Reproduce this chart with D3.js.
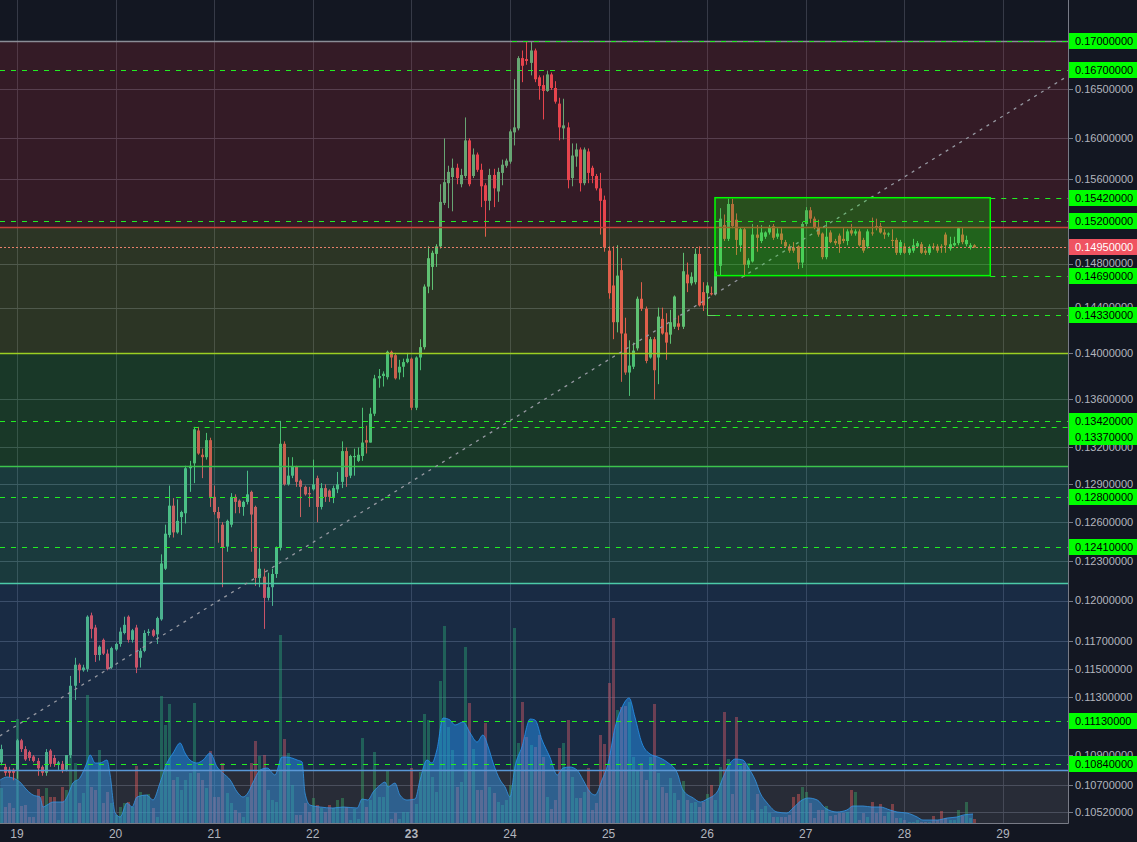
<!DOCTYPE html>
<html>
<head>
<meta charset="utf-8">
<title>Candles</title>
<script src="https://cdn.jsdelivr.net/npm/d3@7"></script>
<style>
  html, body { margin: 0; padding: 0; background: #131722; }
  svg { display: block; }
</style>
</head>
<body>
<div id="chart"></div>
<script>
// hourly candles, first candle is 4 hours before day 19
var firstCandleHour = -4;
var opens = [
  .1085,.1082,.1080,.1080,.1080,.1100,.1094,.1092,.1089,.1086,
  .1082,.1078,.1093,.1088,.1084,.1084,.1080,.1090,.1138,.1153,
  .1149,.1150,.1189,.1180,.1160,.1171,.1161,.1151,.1164,.1168,
  .1176,.1188,.1171,.1180,.1158,.1163,.1176,.1178,.1175,.1186,
  .1224,.1250,.1273,.1252,.1264,.1267,.1303,.1307,.1334,.1314,
  .1312,.1326,.1280,.1268,.1258,.1241,.1258,.1280,.1277,.1272,
  .1276,.1284,.1272,.1217,.1218,.1202,.1210,.1220,.1240,.1323,
  .1290,.1297,.1304,.1293,.1288,.1283,.1286,.1295,.1272,.1287,
  .1285,.1280,.1286,.1292,.1317,.1297,.1312,.1309,.1313,.1326,
  .1324,.1348,.1378,.1380,.1379,.1401,.1398,.1383,.1388,.1392,
  .1395,.1353,.1396,.1405,.1459,.1477,.1489,.1496,.1537,.1556,
  .1562,.1571,.1555,.1563,.1598,.1563,.1584,.1569,.1554,.1539,
  .1564,.1548,.1566,.1573,.1577,.1606,.1610,.1682,.1681,.1677,
  .1690,.1662,.1654,.1648,.1665,.1651,.1635,.1610,.1611,.1561,
  .1582,.1589,.1556,.1587,.1571,.1563,.1551,.1540,.1492,.1460,
  .1427,.1474,.1417,.1383,.1388,.1404,.1448,.1439,.1396,.1412,
  .1396,.1430,.1418,.1416,.1423,.1426,.1423,.1470,.1462,.1463,
  .1489,.1454,.1453,.1453,.1452,.1478,.1516,.1503,.1536,.1521,
  .1497,.1512,.1479,.1482,.1507,.1501,.1505,.1509,.1515,.1505,
  .1508,.1500,.1496,.1495,.1496,.1481,.1517,.1530,.1522,.1514,
  .1508,.1486,.1509,.1501,.1506,.1503,.1501,.1511,.1508,.1510,
  .1502,.1496,.1509,.1515,.1515,.1509,.1507,.1502,.1502,.1490,
  .1496,.1490,.1492,.1496,.1498,.1492,.1490,.1496,.1496,.1496,
  .1507,.1494,.1497,.1499,.1507,.1498,.1495,.1497
];
var highs = [
  .1097,.1084,.1082,.1081,.1101,.1101,.1096,.1093,.1090,.1088,
  .1083,.1094,.1094,.1090,.1086,.1086,.1090,.1145,.1158,.1154,
  .1153,.1189,.1191,.1182,.1167,.1172,.1164,.1166,.1169,.1180,
  .1188,.1189,.1179,.1182,.1165,.1178,.1179,.1179,.1188,.1235,
  .1258,.1289,.1279,.1278,.1269,.1305,.1309,.1337,.1337,.1319,
  .1332,.1328,.1289,.1272,.1260,.1262,.1283,.1282,.1278,.1277,
  .1301,.1285,.1273,.1240,.1224,.1221,.1224,.1241,.1342,.1325,
  .1312,.1312,.1305,.1294,.1289,.1288,.1310,.1297,.1291,.1290,
  .1286,.1289,.1300,.1325,.1320,.1314,.1319,.1320,.1353,.1338,
  .1353,.1381,.1386,.1384,.1402,.1402,.1400,.1394,.1395,.1400,
  .1396,.1397,.1412,.1461,.1496,.1492,.1498,.1555,.1600,.1573,
  .1580,.1575,.1570,.1621,.1600,.1590,.1586,.1575,.1556,.1570,
  .1570,.1571,.1579,.1580,.1609,.1660,.1684,.1690,.1699,.1699,
  .1692,.1664,.1664,.1669,.1667,.1658,.1641,.1640,.1616,.1595,
  .1595,.1591,.1591,.1590,.1573,.1565,.1566,.1544,.1496,.1496,
  .1497,.1485,.1431,.1411,.1409,.1450,.1463,.1441,.1414,.1414,
  .1440,.1440,.1435,.1438,.1451,.1433,.1490,.1481,.1472,.1494,
  .1496,.1463,.1463,.1459,.1495,.1532,.1526,.1541,.1541,.1527,
  .1514,.1514,.1485,.1517,.1516,.1516,.1510,.1516,.1517,.1513,
  .1513,.1502,.1498,.1500,.1497,.1519,.1533,.1533,.1524,.1521,
  .1509,.1519,.1511,.1503,.1508,.1513,.1512,.1517,.1512,.1512,
  .1504,.1512,.1523,.1522,.1518,.1512,.1509,.1512,.1504,.1502,
  .1499,.1496,.1503,.1501,.1500,.1494,.1498,.1499,.1498,.1498,
  .1509,.1505,.1505,.1514,.1513,.1506,.1499,.1498
];
var lows = [
  .1083,.1076,.1075,.1073,.1074,.1092,.1086,.1086,.1085,.1076,
  .1076,.1076,.1082,.1082,.1080,.1078,.1079,.1088,.1128,.1140,
  .1148,.1148,.1172,.1155,.1156,.1160,.1149,.1150,.1163,.1166,
  .1175,.1169,.1169,.1147,.1151,.1162,.1174,.1173,.1168,.1185,
  .1223,.1248,.1248,.1251,.1250,.1259,.1284,.1291,.1314,.1295,
  .1310,.1272,.1266,.1244,.1210,.1237,.1256,.1267,.1267,.1265,
  .1274,.1237,.1211,.1210,.1179,.1200,.1196,.1217,.1238,.1289,
  .1289,.1295,.1288,.1264,.1281,.1272,.1285,.1260,.1270,.1276,
  .1276,.1275,.1283,.1287,.1288,.1295,.1297,.1308,.1309,.1315,
  .1324,.1346,.1370,.1371,.1377,.1387,.1377,.1377,.1379,.1391,
  .1351,.1351,.1385,.1403,.1453,.1456,.1477,.1494,.1535,.1532,
  .1529,.1555,.1552,.1561,.1553,.1561,.1567,.1533,.1505,.1530,
  .1533,.1538,.1554,.1571,.1575,.1593,.1608,.1657,.1675,.1664,
  .1657,.1639,.1619,.1647,.1649,.1635,.1598,.1599,.1551,.1553,
  .1572,.1548,.1554,.1556,.1556,.1549,.1507,.1491,.1448,.1412,
  .1418,.1375,.1381,.1363,.1386,.1402,.1437,.1391,.1395,.1360,
  .1373,.1416,.1394,.1408,.1421,.1420,.1421,.1454,.1460,.1461,
  .1441,.1437,.1451,.1451,.1451,.1469,.1501,.1501,.1513,.1488,
  .1491,.1468,.1476,.1481,.1491,.1499,.1503,.1507,.1502,.1503,
  .1498,.1495,.1490,.1490,.1475,.1476,.1515,.1518,.1512,.1505,
  .1484,.1484,.1499,.1497,.1490,.1499,.1497,.1506,.1506,.1496,
  .1490,.1494,.1506,.1511,.1508,.1503,.1505,.1496,.1488,.1488,
  .1489,.1488,.1490,.1495,.1489,.1488,.1488,.1493,.1490,.1490,
  .1490,.1492,.1496,.1497,.1498,.1496,.1493,.1495
];
var closes = [
  .1094,.1078,.1078,.1078,.1100,.1094,.1087,.1088,.1086,.1081,
  .1078,.1092,.1084,.1084,.1085,.1080,.1090,.1138,.1153,.1149,
  .1151,.1188,.1179,.1160,.1166,.1161,.1150,.1165,.1168,.1177,
  .1182,.1171,.1178,.1151,.1163,.1176,.1177,.1174,.1187,.1228,
  .1251,.1273,.1252,.1261,.1268,.1303,.1305,.1335,.1315,.1312,
  .1326,.1280,.1268,.1263,.1240,.1261,.1280,.1276,.1272,.1276,
  .1282,.1266,.1217,.1224,.1202,.1210,.1220,.1240,.1323,.1290,
  .1297,.1304,.1292,.1288,.1282,.1282,.1290,.1272,.1287,.1280,
  .1280,.1287,.1290,.1317,.1296,.1313,.1313,.1314,.1324,.1324,
  .1348,.1378,.1380,.1382,.1401,.1396,.1378,.1388,.1392,.1395,
  .1353,.1396,.1405,.1459,.1485,.1490,.1496,.1538,.1557,.1567,
  .1571,.1561,.1564,.1598,.1555,.1584,.1569,.1553,.1539,.1564,
  .1551,.1567,.1574,.1578,.1607,.1611,.1682,.1674,.1679,.1690,
  .1660,.1653,.1648,.1665,.1651,.1637,.1611,.1613,.1559,.1583,
  .1589,.1556,.1589,.1566,.1563,.1551,.1539,.1495,.1453,.1427,
  .1469,.1417,.1383,.1389,.1402,.1448,.1439,.1393,.1412,.1385,
  .1432,.1417,.1409,.1427,.1450,.1423,.1473,.1462,.1468,.1489,
  .1442,.1442,.1460,.1452,.1473,.1522,.1503,.1536,.1515,.1502,
  .1512,.1479,.1483,.1507,.1504,.1509,.1509,.1514,.1504,.1508,
  .1502,.1496,.1492,.1492,.1481,.1517,.1530,.1522,.1514,.1507,
  .1486,.1505,.1500,.1499,.1498,.1501,.1510,.1508,.1510,.1497,
  .1492,.1510,.1508,.1514,.1509,.1507,.1508,.1501,.1490,.1500,
  .1490,.1494,.1497,.1499,.1490,.1490,.1496,.1495,.1492,.1495,
  .1497,.1498,.1499,.1513,.1500,.1502,.1497,.1495
];
var volumes = [
  35,16,20,15,104,17,18,6,6,34,
  27,35,26,26,3,36,33,83,60,20,
  30,128,36,33,73,20,31,20,8,16,
  20,21,16,57,31,28,29,15,6,127,
  98,119,43,46,33,43,50,120,50,43,
  35,72,26,26,60,30,20,13,10,6,
  26,60,82,67,68,33,23,21,188,84,
  70,38,8,8,20,11,25,18,15,11,
  18,15,23,25,16,3,14,4,85,16,
  23,71,26,26,53,4,10,4,11,11,
  55,19,51,109,103,46,31,142,197,96,
  73,36,41,176,120,74,33,33,100,36,
  30,21,18,23,38,195,80,121,86,78,
  76,88,66,26,14,23,75,80,103,46,
  25,25,31,55,13,20,88,79,140,205,
  113,116,117,121,66,53,60,43,66,119,
  50,36,30,45,30,23,42,23,20,21,
  16,21,29,38,23,56,111,64,29,106,
  57,60,60,13,29,14,17,10,6,6,
  6,6,8,26,29,36,31,20,5,13,
  13,17,7,8,10,10,11,33,31,3,
  10,6,21,10,19,7,11,19,5,5,
  3,1,1,3,1,1,1,7,3,12,
  5,3,3,13,7,21,5,4
];

// volume moving average (blue area), hours after day 19 00:00
var volMaHours = [
  -4.1,-2.4,-1.0,0.7,2.4,3.9,5.6,6.3,7.3,8.8,11.2,12.2,13.6,15.3,17.0,17.8,19.0,20.2,21.9,22.6,
  23.9,25.1,26.8,28.0,29.2,31.6,33.1,34.8,36.5,38.0,39.7,40.9,42.1,43.8,45.3,47.0,48.7,50.1,51.9,53.6,
  55.0,56.2,57.4,59.2,60.9,62.8,64.5,65.7,66.9,68.2,69.4,70.1,71.3,73.8,76.9,79.4,82.8,84.0,85.4,86.7,
  88.4,89.6,90.3,92.0,93.2,94.9,96.9,98.1,99.8,101.0,102.2,103.7,105.4,106.6,108.6,110.3,112.0,113.4,114.7,115.9,
  117.6,118.8,120.0,121.2,122.9,124.9,126.1,127.8,129.7,131.5,132.9,134.6,136.3,137.8,139.5,140.7,142.4,143.9,145.6,147.3,
  149.0,150.4,152.1,154.1,156.0,158.2,160.7,162.1,164.6,166.3,168.0,170.4,171.9,173.6,174.8,176.7,177.9,179.7,180.9,182.6,
  185.0,187.4,188.9,191.1,192.6,194.8,196.7,199.6,202.0,203.5,205.9,208.1,210.1,212.5,214.2,216.6,219.1,220.5,224.0,226.4,
  228.8,230.3,232.7
];
var volMaValues = [
  43,46,45,41,33,28,26,16,18,21,21,26,40,45,60,68,60,60,63,50,
  10,6,20,16,26,28,23,40,60,70,80,70,63,60,63,70,56,50,43,31,
  26,30,40,53,55,48,66,66,65,63,61,30,18,16,15,16,15,24,23,31,
  38,41,36,40,28,23,24,43,63,60,73,105,103,98,101,90,81,88,76,60,
  43,36,26,56,76,104,103,83,66,48,55,56,53,43,31,28,43,60,96,116,
  125,106,80,69,66,61,50,33,25,21,24,31,46,60,64,63,56,43,30,20,
  11,10,15,23,25,23,15,11,13,17,17,16,16,13,11,10,6,3,3,5,
  6,8,9
];

var dayTicks = [19, 20, 21, 22, 23, 24, 25, 26, 27, 28, 29];
var boldDay = 23;
var priceTicks = [0.165, 0.16, 0.156, 0.148, 0.144, 0.14, 0.136, 0.132, 0.129, 0.126,
                  0.123, 0.12, 0.117, 0.115, 0.113, 0.109, 0.107, 0.1052];

// retracement zones, top to bottom
var bandLevels = [0.17, 0.1514, 0.14, 0.1305, 0.1213, 0.108, 0.104];

// horizontal levels (green dashed) and the hour where each starts (null = left edge)
var levelPrices = [0.17, 0.167, 0.1542, 0.152, 0.1469, 0.1433, 0.1342, 0.1337, 0.128, 0.1241, 0.1113, 0.1084];
var levelStartHours = [120.5, null, 236.9, null, 236.9, 169.9, null, 43, null, null, null, null];

var lastPrice = 0.1495;

// drawings
var trendHours = [-4.2, 256];
var trendPrices = [0.1103, 0.1664];
var boxHours = [169.9, 236.9];
var boxPrices = [0.1542, 0.1469];
var bracketHours = [168, 168, 169.9];
var bracketPrices = [0.1461, 0.1433, 0.1433];

document.addEventListener("DOMContentLoaded", function () {
    var W = 1137, H = 842;
    var plotRight = 1068, plotBottom = 823;
    var font = "'Liberation Sans', Arial, sans-serif";

    var svg = d3.select("#chart").append("svg")
        .attr("width", W)
        .attr("height", H);

    var day19 = new Date(Date.UTC(2018, 9, 19));
    var day29 = new Date(Date.UTC(2018, 9, 29));
    function hourDate(h) { return new Date(day19.getTime() + h * 3600000); }

    // time scale, day 19 at x=17, day 29 at x=1003
    var x = d3.scaleUtc().domain([day19, day29]).range([17, 1003]);
    // log price scale
    var y = d3.scaleLog().domain([0.17, 0.1052]).range([41, 812]);
    // volume scale for the bottom of the pane
    var vy = d3.scaleLinear().domain([0, d3.max(volumes)]).range([plotBottom, 618]);

    var candles = closes.map(function (c, i) {
        return { t: hourDate(firstCandleHour + i), o: opens[i], h: highs[i], l: lows[i], c: c, v: volumes[i] };
    });
    var step = x(hourDate(1)) - x(hourDate(0));
    var bodyW = Math.max(1, Math.round(step * 0.72));

    svg.append("rect").attr("width", W).attr("height", H).attr("fill", "#131722");

    svg.append("defs").append("clipPath").attr("id", "plot")
        .append("rect").attr("width", plotRight).attr("height", plotBottom);

    var plot = svg.append("g").attr("clip-path", "url(#plot)");

    // grid
    var days = dayTicks.map(function (d) { return new Date(Date.UTC(2018, 9, d)); });
    plot.selectAll(".vgrid").data(days).enter().append("line")
        .attr("x1", function (d) { return Math.round(x(d)) + 0.5; })
        .attr("x2", function (d) { return Math.round(x(d)) + 0.5; })
        .attr("y1", 0).attr("y2", plotBottom)
        .attr("stroke", "#363a47").attr("stroke-width", 1);
    plot.selectAll(".hgrid").data(priceTicks).enter().append("line")
        .attr("x1", 0).attr("x2", plotRight)
        .attr("y1", function (d) { return Math.round(y(d)) + 0.5; })
        .attr("y2", function (d) { return Math.round(y(d)) + 0.5; })
        .attr("stroke", "#3c4150").attr("stroke-width", 1);

    // volume bars
    plot.selectAll(".vol").data(candles).enter().append("rect")
        .attr("x", function (d) { return Math.round(x(d.t)) - Math.floor(bodyW / 2); })
        .attr("y", function (d) { return vy(d.v); })
        .attr("width", bodyW)
        .attr("height", function (d) { return plotBottom - vy(d.v); })
        .attr("fill", function (d) { return d.c >= d.o ? "#26a65b" : "#ef5350"; })
        .attr("opacity", 0.45);

    // volume average area
    var ma = volMaHours.map(function (h, i) { return { t: hourDate(h), v: volMaValues[i] }; });
    plot.append("path").datum(ma)
        .attr("d", d3.area().curve(d3.curveMonotoneX)
            .x(function (d) { return x(d.t); })
            .y0(plotBottom)
            .y1(function (d) { return vy(d.v); }))
        .attr("fill", "#2196f3").attr("opacity", 0.5);
    plot.append("path").datum(ma)
        .attr("d", d3.line().curve(d3.curveMonotoneX)
            .x(function (d) { return x(d.t); })
            .y(function (d) { return vy(d.v); }))
        .attr("fill", "none").attr("stroke", "#2196f3").attr("stroke-opacity", 0.8);

    // candles
    var up = "#4fb97c", down = "#e5474f";
    var cg = plot.selectAll(".candle").data(candles).enter().append("g");
    cg.append("line")
        .attr("x1", function (d) { return Math.round(x(d.t)) + 0.5; })
        .attr("x2", function (d) { return Math.round(x(d.t)) + 0.5; })
        .attr("y1", function (d) { return y(d.h); })
        .attr("y2", function (d) { return y(d.l); })
        .attr("stroke", function (d) { return d.c >= d.o ? up : down; })
        .attr("stroke-width", 1);
    cg.append("rect")
        .attr("x", function (d) { return Math.round(x(d.t)) - Math.floor(bodyW / 2); })
        .attr("y", function (d) { return y(Math.max(d.o, d.c)); })
        .attr("width", bodyW)
        .attr("height", function (d) { return Math.max(1, Math.abs(y(d.o) - y(d.c))); })
        .attr("fill", function (d) { return d.c >= d.o ? up : down; });

    // retracement zones drawn on top, semi transparent
    var bandFills = ["rgba(242,54,69,0.15)", "rgba(200,240,60,0.14)", "rgba(60,220,70,0.17)",
                     "rgba(60,220,190,0.18)", "rgba(60,140,240,0.17)", "rgba(150,150,160,0.17)"];
    var bandLines = ["#8a8d96", "#c8403a", "#9ccf22", "#3cc44c", "#4ccaa8", "#5a98d6"];
    var bands = bandLevels.slice(0, -1).map(function (v, i) { return { top: v, bottom: bandLevels[i + 1], i: i }; });
    plot.selectAll(".band").data(bands).enter().append("rect")
        .attr("x", 0).attr("width", plotRight)
        .attr("y", function (d) { return y(d.top); })
        .attr("height", function (d) { return y(d.bottom) - y(d.top); })
        .attr("fill", function (d) { return bandFills[d.i]; });
    plot.selectAll(".bandline").data(bands).enter().append("line")
        .attr("x1", 0).attr("x2", plotRight)
        .attr("y1", function (d) { return Math.round(y(d.top)) + 0.5; })
        .attr("y2", function (d) { return Math.round(y(d.top)) + 0.5; })
        .attr("stroke", function (d) { return bandLines[d.i]; })
        .attr("stroke-width", 1.5);

    // trend line
    plot.append("line")
        .attr("x1", x(hourDate(trendHours[0]))).attr("y1", y(trendPrices[0]))
        .attr("x2", x(hourDate(trendHours[1]))).attr("y2", y(trendPrices[1]))
        .attr("stroke", "#9598a1").attr("stroke-width", 1.3)
        .attr("stroke-dasharray", "3,5");

    // green level rays
    plot.selectAll(".level").data(levelPrices).enter().append("line")
        .attr("x1", function (d, i) { return levelStartHours[i] === null ? 0 : x(hourDate(levelStartHours[i])); })
        .attr("x2", plotRight)
        .attr("y1", function (d) { return Math.round(y(d)) + 0.5; })
        .attr("y2", function (d) { return Math.round(y(d)) + 0.5; })
        .attr("stroke", "#22ee22").attr("stroke-width", 1.2)
        .attr("stroke-dasharray", "5,6");

    // range box
    plot.append("rect")
        .attr("x", x(hourDate(boxHours[0])))
        .attr("y", y(boxPrices[0]))
        .attr("width", x(hourDate(boxHours[1])) - x(hourDate(boxHours[0])))
        .attr("height", y(boxPrices[1]) - y(boxPrices[0]))
        .attr("fill", "rgba(0,255,0,0.23)")
        .attr("stroke", "#00ff00").attr("stroke-width", 1.5);

    plot.append("path")
        .attr("d", d3.line()(bracketHours.map(function (h, i) {
            return [Math.round(x(hourDate(h))) + 0.5, Math.round(y(bracketPrices[i])) + 0.5];
        })))
        .attr("fill", "none").attr("stroke", "#5fd35f").attr("stroke-width", 1);

    // last price line
    plot.append("line")
        .attr("x1", 0).attr("x2", plotRight)
        .attr("y1", Math.round(y(lastPrice)) + 0.5).attr("y2", Math.round(y(lastPrice)) + 0.5)
        .attr("stroke", "#e8806a").attr("stroke-width", 1)
        .attr("stroke-dasharray", "2,2");

    // axes frame
    svg.append("rect").attr("x", plotRight).attr("y", 0)
        .attr("width", W - plotRight).attr("height", H).attr("fill", "#131722");
    svg.append("rect").attr("x", 0).attr("y", plotBottom)
        .attr("width", W).attr("height", H - plotBottom).attr("fill", "#131722");
    svg.append("line").attr("x1", plotRight + 0.5).attr("x2", plotRight + 0.5)
        .attr("y1", 0).attr("y2", plotBottom + 0.5)
        .attr("stroke", "#787b86");
    svg.append("line").attr("x1", 0).attr("x2", plotRight + 0.5)
        .attr("y1", plotBottom + 0.5).attr("y2", plotBottom + 0.5)
        .attr("stroke", "#787b86");

    // bottom day labels
    svg.selectAll(".day").data(days).enter().append("text")
        .attr("x", function (d) { return x(d); })
        .attr("y", 838)
        .attr("text-anchor", "middle")
        .attr("font-family", font).attr("font-size", "12px")
        .attr("font-weight", function (d) { return d.getUTCDate() === boldDay ? "bold" : "normal"; })
        .attr("fill", "#b2b5be")
        .text(function (d) { return d.getUTCDate(); });

    // right axis ticks
    var fmt = d3.format(".8f");
    svg.selectAll(".tick").data(priceTicks).enter().append("line")
        .attr("x1", plotRight).attr("x2", plotRight + 5)
        .attr("y1", function (d) { return Math.round(y(d)) + 0.5; })
        .attr("y2", function (d) { return Math.round(y(d)) + 0.5; })
        .attr("stroke", "#787b86");
    svg.selectAll(".ticklabel").data(priceTicks).enter().append("text")
        .attr("x", 1075)
        .attr("y", function (d) { return y(d); })
        .attr("dy", "0.35em")
        .attr("font-family", font).attr("font-size", "11px")
        .attr("fill", "#b2b5be")
        .text(fmt);

    // level labels, pushed down when they overlap
    var labels = levelPrices.map(function (v) { return { v: v, fill: "#00ff00", color: "#000000" }; });
    labels.push({ v: lastPrice, fill: "#ef5361", color: "#ffffff" });
    labels.sort(function (a, b) { return b.v - a.v; });
    var prevY = -100;
    labels.forEach(function (d) {
        d.y = Math.max(y(d.v), prevY + 16);
        prevY = d.y;
    });
    var lg = svg.selectAll(".label").data(labels).enter().append("g");
    lg.append("rect")
        .attr("x", plotRight + 1).attr("width", W - plotRight - 1)
        .attr("y", function (d) { return Math.round(d.y) - 8; })
        .attr("height", 16)
        .attr("fill", function (d) { return d.fill; });
    lg.append("text")
        .attr("x", 1075)
        .attr("y", function (d) { return Math.round(d.y); })
        .attr("dy", "0.35em")
        .attr("font-family", font).attr("font-size", "11px")
        .attr("fill", function (d) { return d.color; })
        .text(function (d) { return fmt(d.v); });
});
</script>
</body>
</html>
